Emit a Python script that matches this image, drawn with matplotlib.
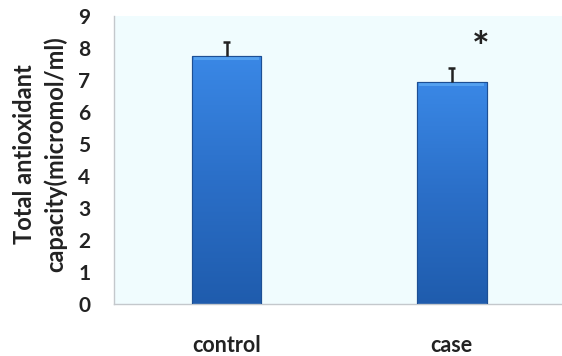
import numpy as np
import matplotlib
matplotlib.use("Agg")
import matplotlib.pyplot as plt
from matplotlib.colors import LinearSegmentedColormap

categories = ["control", "case"]
means = [7.75, 6.94]
errors = [0.44, 0.42]
yticks = [0, 1, 2, 3, 4, 5, 6, 7, 8, 9]

plt.rcParams["font.family"] = ["Lato", "DejaVu Sans"]

fig = plt.figure(figsize=(5.62, 3.56), dpi=100)
ax = fig.add_axes([0.2028, 0.1461, 0.7972, 0.8090])
ax.set_facecolor("#f0fcfe")

x = np.arange(len(categories))
width = 0.31
bars = ax.bar(x, means, width=width, color="#2f74d0", edgecolor="#1d4f94",
              linewidth=0.8, zorder=2)

# vertical gradient fill clipped to each bar
cmap = LinearSegmentedColormap.from_list("bluegrad", ["#1f5cad", "#2b6fc8", "#3a88e6"])
grad = np.linspace(0, 1, 256).reshape(-1, 1)
for b in bars:
    bx, by = b.get_x(), b.get_y()
    bw, bh = b.get_width(), b.get_height()
    im = ax.imshow(grad, extent=(bx, bx + bw, by, by + bh), origin="lower",
                   cmap=cmap, aspect="auto", zorder=2.5)
    im.set_clip_path(b)
    # lighter bevel along the top edge
    ax.fill_between([bx + 0.012, bx + bw - 0.012], by + bh - 0.12, by + bh,
                    color="#5aa6f2", alpha=0.85, zorder=2.6, linewidth=0)
    ax.bar(bx + bw / 2, bh, width=bw, fill=False, edgecolor="#1d4f94",
           linewidth=0.8, zorder=2.7)

# upper error bars with a single cap
tops = np.array(means) + np.array(errors)
ax.vlines(x, means, tops, color="#222222", linewidth=1.8, zorder=3)
ax.hlines(tops, x - 0.016, x + 0.016, color="#222222", linewidth=1.8, zorder=3)

ax.text(x[1] + 0.13, 7.94, "*", ha="center", va="center", fontsize=30,
        fontweight="bold", color="#222222")

ax.set_xlim(-0.5, 1.49)
ax.set_ylim(0, 9)
ax.set_yticks(yticks)
ax.set_yticklabels([str(t) for t in yticks], fontsize=15, fontweight="bold",
                   color="#222222")
ax.set_xticks(x)
ax.set_xticklabels(categories, fontsize=15.5, fontweight="bold", color="#222222")
ax.tick_params(axis="y", length=0, pad=17)
ax.tick_params(axis="x", length=0, pad=22)

for side in ["top", "right"]:
    ax.spines[side].set_visible(False)
for side in ["left", "bottom"]:
    ax.spines[side].set_color("#c4c8cc")
    ax.spines[side].set_linewidth(1.0)

fig.text(0.044, 0.568, "Total antioxidant", rotation=90, ha="center", va="center",
         fontsize=17, fontweight="bold", color="#222222")
fig.text(0.098, 0.568, "capacity(micromol/ml)", rotation=90, ha="center",
         va="center", fontsize=17, fontweight="bold", color="#222222")

fig.savefig("out.png", dpi=100, facecolor="white")
